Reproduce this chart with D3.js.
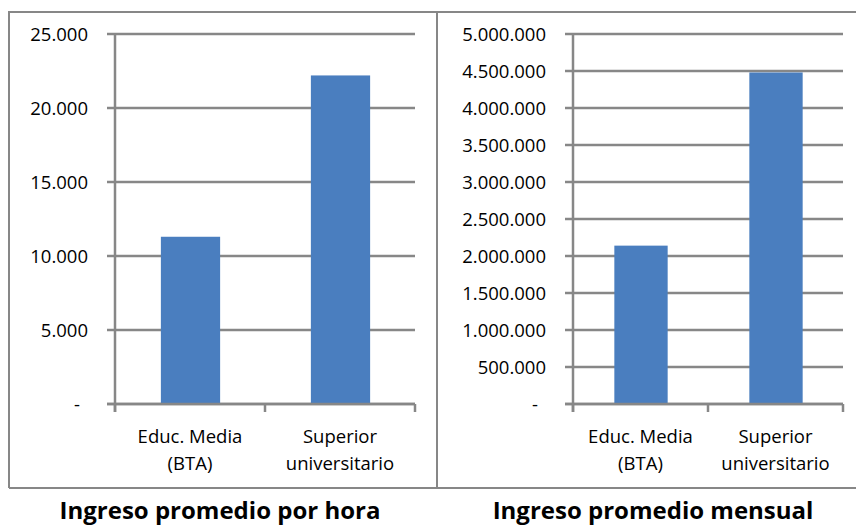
<!DOCTYPE html>
<html><head><meta charset="utf-8">
<script src="https://cdn.jsdelivr.net/npm/d3@7"></script>
<style>
html,body{margin:0;padding:0;background:#fff;}
text{font-family:"Open Sans",sans-serif;fill:#000;}
</style></head>
<body>
<svg id="c" width="856" height="527"></svg>
<script>
const categories = ["Educ. Media|(BTA)", "Superior|universitario"];
const hourlyValues = [11300, 22200];
const monthlyValues = [2140000, 4480000];
const hourlyTicks = [0, 5000, 10000, 15000, 20000, 25000];
const monthlyTicks = [0, 500000, 1000000, 1500000, 2000000, 2500000, 3000000, 3500000, 4000000, 4500000, 5000000];
const titles = ["Ingreso promedio por hora", "Ingreso promedio mensual"];

const svg = d3.select("#c");
const loc = d3.formatLocale({decimal: ",", thousands: ".", grouping: [3], currency: ["$", ""]});
const fmt = loc.format(",d");
const GRID = "#878787";

// panel borders
svg.append("path")
  .attr("d", "M9,488 L9,12 L856,12 M9,488 L856,488 M437,12 L437,488")
  .attr("fill", "none").attr("stroke", GRID).attr("stroke-width", 2);

function drawChart(cfg) {
  const g = svg.append("g");
  const y = d3.scaleLinear().domain([0, cfg.max]).range([404, 34]);
  const x = d3.scaleBand().domain(categories).range([cfg.x0, cfg.x1]).padding(0);

  // gridlines
  g.selectAll("line.grid").data(cfg.ticks).join("line")
    .attr("x1", cfg.x0 - 8).attr("x2", cfg.x1)
    .attr("y1", d => y(d)).attr("y2", d => y(d))
    .attr("stroke", GRID).attr("stroke-width", 2.5);

  // bars
  const bw = x.bandwidth() * 0.395;
  g.selectAll("rect").data(cfg.values).join("rect")
    .attr("x", (d, i) => x(categories[i]) + x.bandwidth() / 2 - bw / 2 + 0.5)
    .attr("width", bw)
    .attr("y", d => y(d))
    .attr("height", d => y(0) - y(d))
    .attr("fill", "#4A7EBF");

  // y axis line
  g.append("line").attr("x1", cfg.x0).attr("x2", cfg.x0)
    .attr("y1", y(cfg.max)).attr("y2", y(0) + 8)
    .attr("stroke", GRID).attr("stroke-width", 2.5);
  // x axis line
  g.append("line").attr("x1", cfg.x0 - 8).attr("x2", cfg.x1)
    .attr("y1", y(0)).attr("y2", y(0))
    .attr("stroke", GRID).attr("stroke-width", 2.5);
  // category boundary ticks
  const bounds = categories.map(c => x(c)).concat([cfg.x1]);
  g.selectAll("line.ct").data(bounds).join("line")
    .attr("x1", d => d).attr("x2", d => d)
    .attr("y1", y(0)).attr("y2", y(0) + 8)
    .attr("stroke", GRID).attr("stroke-width", 2.5);

  // y tick labels
  g.selectAll("text.yl").data(cfg.ticks).join("text")
    .attr("x", d => d === 0 ? cfg.x0 - 35 : cfg.x0 - 27)
    .attr("y", d => y(d))
    .attr("dy", "0.36em")
    .attr("text-anchor", "end")
    .style("font-size", "18.5px")
    .text(d => d === 0 ? "-" : fmt(d));

  // category labels
  categories.forEach(c => {
    const parts = c.split("|");
    const cx = x(c) + x.bandwidth() / 2;
    parts.forEach((p, j) => {
      g.append("text").attr("x", cx).attr("y", 443 + j * 26.5)
        .attr("text-anchor", "middle").style("font-size", "18.5px").text(p);
    });
  });

  // title
  g.append("text").attr("x", cfg.tx).attr("y", 519)
    .attr("text-anchor", "middle")
    .style("font-size", "24px").style("font-weight", "bold")
    .text(cfg.title);
}

drawChart({x0: 115, x1: 415, max: 25000, ticks: hourlyTicks, values: hourlyValues, title: titles[0], tx: 220});
drawChart({x0: 573, x1: 843, max: 5000000, ticks: monthlyTicks, values: monthlyValues, title: titles[1], tx: 653});
</script>
</body></html>
